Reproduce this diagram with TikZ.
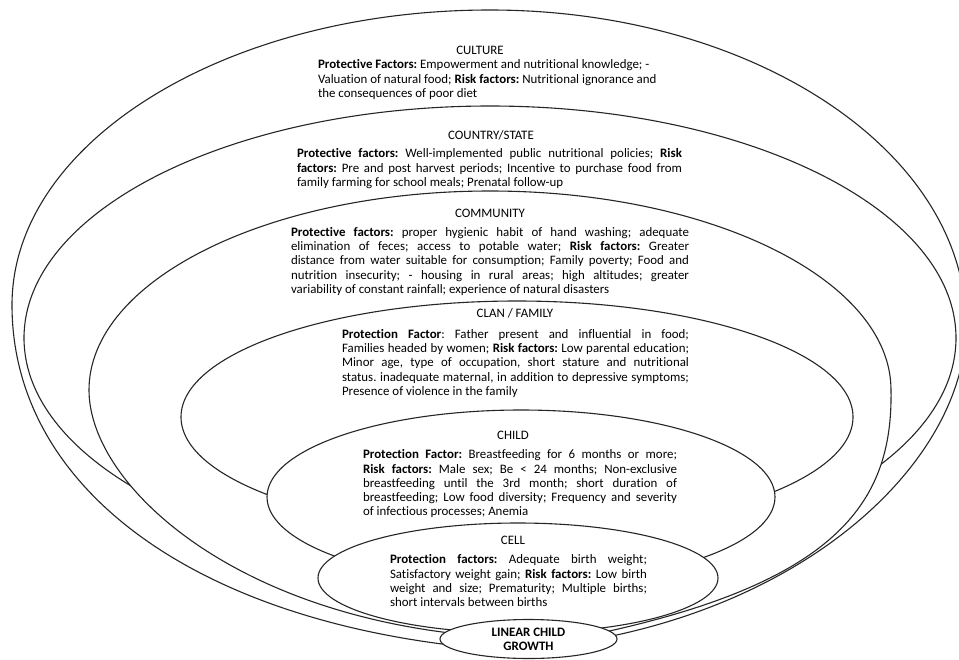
\documentclass[tikz,border=0pt]{standalone}
\usepackage{fontspec}
\setmainfont{Carlito}[Ligatures=NoCommon]
\usetikzlibrary{shapes.geometric}
\newcommand{\fsz}{\fontsize{12.9}{14.25}\selectfont\frenchspacing}
\newcommand{\rsp}{\spaceskip=0pt\relax\xspaceskip=0pt\relax}
\newlength{\jw}
\newcommand{\jl}[1]{\makebox[\jw][s]{#1}\\}
\tikzset{
  ring/.style={draw=black!85, line width=1.1pt, fill=white},
  head/.style={anchor=base, inner sep=0pt, font=\fsz},
  para/.style={anchor=north west, inner sep=0pt, outer sep=0pt, align=left, font=\fsz},
}
\begin{document}
\begin{tikzpicture}[x=1pt,y=-1pt]
\useasboundingbox[fill=white] (0,0) rectangle (959,659);

% CULTURE (outermost)
\path[ring] (12,305) .. controls (12,142.1) and (226,10) .. (490,10)
  .. controls (752.9,10) and (966,151) .. (966,325)
  .. controls (966,450) and (830,590) .. (612,636)
  -- (450,645)
  .. controls (180,612) and (12,480) .. (12,305) -- cycle;

% COUNTRY/STATE
\path[ring] (490,338) ellipse [x radius=466, y radius=232];

% COMMUNITY
\path[ring] (89,390) .. controls (89,280.1) and (268.5,191) .. (490,191)
  .. controls (711.5,191) and (891,280.1) .. (891,390)
  .. controls (893,500) and (840,580) .. (605,632)
  -- (450,633)
  .. controls (220,605) and (89,480) .. (89,390) -- cycle;

% CLAN / FAMILY
\path[ring] (517,417) ellipse [x radius=336, y radius=116];
% CHILD
\path[ring] (521,497) ellipse [x radius=254, y radius=87];
% CELL
\path[ring] (518,578) ellipse [x radius=200, y radius=55];

% LINEAR CHILD GROWTH
\node[ellipse, draw=black!85, line width=1.1pt, fill=white, minimum width=177pt,
      minimum height=39pt, inner sep=0pt, align=center, font=\fsz\bfseries]
      (lcg) at (528.5,639) {\rsp LINEAR CHILD\\GROWTH};

% headings
\node[head] (hculture) at (480,54) {CULTURE};
\node[head] (hcountry) at (491,139) {COUNTRY/STATE};
\node[head] (hcomm) at (490,217.5) {COMMUNITY};
\node[head] (hclan) at (515,317.5) {CLAN / FAMILY};
\node[head] (hchild) at (513,439) {CHILD};
\node[head] (hcell) at (513,544) {CELL};

% paragraphs
\node[para, text width=360pt] (pculture) at (318,59) {\rsp\strut\textbf{Protective Factors:} Empowerment and nutritional knowledge; -\\
Valuation of natural food; \textbf{Risk factors:} Nutritional ignorance and\\
the consequences of poor diet};

\node[para, text width=385pt] (pcountry) at (297,148) {\rsp\setlength{\jw}{385pt}\strut\jl{\textbf{Protective factors:} Well-implemented public nutritional policies; \textbf{Risk}}%
\jl{\textbf{factors:} Pre and post harvest periods; Incentive to purchase food from}%
family farming for school meals; Prenatal follow-up};

\node[para, text width=398pt] (pcomm) at (291,226.3) {\rsp\setlength{\jw}{398pt}\strut\jl{\textbf{Protective factors:} proper hygienic habit of hand washing; adequate}%
\jl{elimination of feces; access to potable water; \textbf{Risk factors:} Greater}%
\jl{distance from water suitable for consumption; Family poverty; Food and}%
\jl{nutrition insecurity; - housing in rural areas; high altitudes; greater}%
variability of constant rainfall; experience of natural disasters};

\node[para, text width=347pt] (pclan) at (342,328.3) {\rsp\setlength{\jw}{347pt}\strut\jl{\textbf{Protection Factor}: Father present and influential in food;}%
\jl{Families headed by women; \textbf{Risk factors:} Low parental education;}%
\jl{Minor age, type of occupation, short stature and nutritional}%
\jl{status. inadequate maternal, in addition to depressive symptoms;}%
Presence of violence in the family};

\node[para, text width=314pt] (pchild) at (363,449) {\rsp\setlength{\jw}{314pt}\strut\jl{\textbf{Protection Factor:} Breastfeeding for 6 months or more;}%
\jl{\textbf{Risk factors:} Male sex; Be < 24 months; Non-exclusive}%
\jl{breastfeeding until the 3rd month; short duration of}%
\jl{breastfeeding; Low food diversity; Frequency and severity}%
of infectious processes; Anemia};

\node[para, text width=257pt] (pcell) at (390,554) {\rsp\setlength{\jw}{257pt}\strut\jl{\textbf{Protection factors:} Adequate birth weight;}%
\jl{Satisfactory weight gain; \textbf{Risk factors:} Low birth}%
\jl{weight and size; Prematurity; Multiple births;}%
short intervals between births};
\end{tikzpicture}
\end{document}
